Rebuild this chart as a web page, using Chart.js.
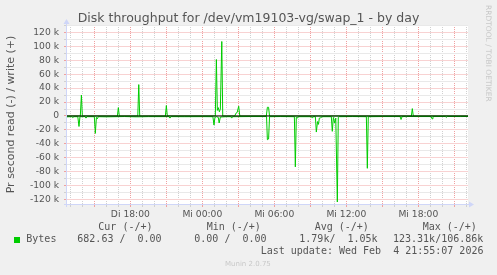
<!DOCTYPE html>
<html>
<head>
<meta charset="utf-8">
<script src="https://cdn.jsdelivr.net/npm/chart.js@4.4.1/dist/chart.umd.min.js"></script>
<style>
    body { margin: 0; background: #F0F0F0; }
    #wrap { position: relative; width: 497px; height: 275px; overflow: hidden; }
    .txt { position: absolute; white-space: pre; color: #555; }
</style>
</head>
<body>
<div id="wrap">
    <canvas id="diskChart" width="497" height="275"></canvas>
</div>
<script>
// Time axis in hours since Tuesday 00:00 (Di 18:00 = 18, Mi 00:00 = 24 ...)
const xLabelHours = [18, 24, 30, 36, 42];
const xLabelTexts = ['Di 18:00', 'Mi 00:00', 'Mi 06:00', 'Mi 12:00', 'Mi 18:00'];

// write (+) samples, bytes per second
const writeHours = [12.72, 13.83, 13.92, 14.0, 16.92, 17.0, 17.08, 18.62, 18.7, 18.78, 20.92, 21.0, 21.08,
    25.08, 25.17, 25.25, 25.33, 25.42, 25.5, 25.62, 25.7, 26.7, 26.8, 26.9, 27.03, 27.12,
    29.33, 29.42, 29.52, 29.6, 41.42, 41.5, 41.58, 46.14];
const writeBytes = [0, 0, 30000, 0, 0, 12000, 0, 0, 45000, 0, 0, 15000, 0,
    0, 81000, 8000, 12000, 6000, 10000, 106860, 0, 0, 4000, 5000, 14000, 0,
    0, 12500, 12500, 0, 0, 10600, 0, 0];

// read (-) samples, bytes per second (drawn below zero)
const readHours = [12.72, 13.1, 13.2, 13.3, 13.62, 13.72, 13.8, 14.22, 14.3, 14.4, 15.0, 15.08, 15.17, 15.25, 15.33,
    16.0, 17.5, 18.5, 19.5, 21.2, 21.3, 21.4, 22.5, 24.0, 24.88, 24.97, 25.05, 25.17, 25.33, 25.4, 25.5,
    26.0, 26.37, 26.45, 26.53, 28.0, 29.35, 29.42, 29.52, 29.6, 30.5, 31.67, 31.75, 31.83, 31.92, 32.0,
    33.08, 33.17, 33.25, 33.42, 33.5, 33.6, 33.68, 33.75, 33.85, 34.0, 34.75, 34.83, 34.92, 35.03, 35.12,
    35.25, 35.33, 35.42, 36.5, 37.67, 37.75, 37.83, 39.0, 40.48, 40.56, 40.64, 40.9, 40.98, 41.06,
    42.0, 43.06, 43.14, 43.22, 44.25, 44.33, 44.41, 45.5, 46.14];
const readBytes = [1200, 1000, 2200, 1000, 1000, 15000, 1000, 900, 3000, 1000, 1000, 25000, 2000, 4000, 1000,
    1200, 800, 1200, 900, 900, 3000, 900, 1000, 900, 1000, 13000, 2000, 1000, 2000, 10000, 1500,
    1000, 1000, 3000, 1000, 800, 800, 34000, 33000, 1000, 800, 1000, 73000, 2000, 3000, 1000,
    1000, 3000, 1000, 1000, 23000, 8000, 12000, 3000, 2500, 1000, 1000, 22000, 2000, 10000, 3000,
    123310, 2000, 1000, 800, 1000, 75000, 1000, 800, 800, 5000, 1000, 700, 1500, 700,
    800, 800, 4000, 800, 700, 2000, 700, 800, 682.63];

// y grid every 10 k, labelled every 20 k
const yGridValues = [-120000, -110000, -100000, -90000, -80000, -70000, -60000, -50000, -40000, -30000,
    -20000, -10000, 0, 10000, 20000, 30000, 40000, 50000, 60000, 70000, 80000, 90000, 100000, 110000,
    120000, 130000];

// legend table
const legendHeads = ['Cur (-/+)', 'Min (-/+)', 'Avg (-/+)', 'Max (-/+)'];
const legendValues = ['682.63 /  0.00', '0.00 /  0.00', '1.79k/  1.05k', '123.31k/106.86k'];
const lastUpdate = 'Last update: Wed Feb  4 21:55:07 2026';

const GREEN = '#00CC00';
const AXIS = '#CFD6F8';
const MAJOR = '#F0A0A0';
const MINOR = '#D0D0D0';

document.addEventListener('DOMContentLoaded', () => {
    generateChart();
    addLegend();
});

function generateChart() {
    const ctx = document.getElementById('diskChart').getContext('2d');

    // white canvas behind the grid
    const plotBackground = {
        id: 'plotBackground',
        beforeDraw(chart) {
            const a = chart.chartArea;
            chart.ctx.save();
            chart.ctx.fillStyle = '#FFFFFF';
            chart.ctx.fillRect(a.left, a.top, a.right - a.left, a.bottom - a.top);
            chart.ctx.restore();
        }
    };

    // munin style axis lines with arrow heads
    const axisArrows = {
        id: 'axisArrows',
        afterDraw(chart) {
            const a = chart.chartArea;
            const c = chart.ctx;
            c.save();
            c.strokeStyle = AXIS;
            c.fillStyle = AXIS;
            c.lineWidth = 1;
            c.beginPath();
            c.moveTo(a.left - 0.5, a.bottom + 3);
            c.lineTo(a.left - 0.5, a.top - 3);
            c.moveTo(a.left - 3, a.bottom + 0.5);
            c.lineTo(a.right + 2, a.bottom + 0.5);
            c.stroke();
            c.beginPath();
            c.moveTo(a.left - 0.5, a.top - 6);
            c.lineTo(a.left - 3.5, a.top - 1);
            c.lineTo(a.left + 2.5, a.top - 1);
            c.fill();
            c.beginPath();
            c.moveTo(a.right + 6, a.bottom + 0.5);
            c.lineTo(a.right + 1, a.bottom - 2.5);
            c.lineTo(a.right + 1, a.bottom + 3.5);
            c.fill();
            c.restore();
        }
    };

    new Chart(ctx, {
        type: 'line',
        data: {
            datasets: [{
                // zero rule
                data: [{ x: 12.72, y: 0 }, { x: 46.14, y: 0 }],
                borderColor: '#000000',
                borderWidth: 1,
                pointRadius: 0
            }, {
                label: 'Bytes write',
                data: writeHours.map((h, i) => ({ x: h, y: writeBytes[i] })),
                borderColor: GREEN,
                borderWidth: 1,
                pointRadius: 0,
                tension: 0
            }, {
                label: 'Bytes read',
                data: readHours.map((h, i) => ({ x: h, y: -readBytes[i] })),
                borderColor: GREEN,
                borderWidth: 1,
                pointRadius: 0,
                tension: 0
            }]
        },
        options: {
            responsive: false,
            animation: false,
            layout: { padding: 0 },
            plugins: {
                legend: { display: false },
                tooltip: { enabled: false },
                title: {
                    display: true,
                    text: 'Disk throughput for /dev/vm19103-vg/swap_1 - by day',
                    color: '#555',
                    font: { family: 'DejaVu Sans', size: 12.5, weight: 'normal', lineHeight: 1 },
                    padding: { top: 12, bottom: 0.5 }
                }
            },
            scales: {
                x: {
                    type: 'linear',
                    min: 12.72,
                    max: 46.14,
                    afterFit: s => { s.height = 71; },
                    afterBuildTicks: s => {
                        const t = [];
                        for (let h = 13; h <= 46; h++) t.push({ value: h });
                        s.ticks = t;
                    },
                    grid: {
                        color: c => c.tick && c.tick.value % 3 === 0 ? MAJOR : MINOR,
                        tickColor: c => c.tick && c.tick.value % 3 === 0 ? MAJOR : MINOR,
                        tickLength: 3,
                        lineWidth: 1
                    },
                    border: { display: false, dash: [1, 1] },
                    ticks: {
                        autoSkip: false,
                        maxTicksLimit: 100,
                        maxRotation: 0,
                        padding: 2,
                        color: '#555',
                        font: { family: 'DejaVu Sans', size: 9.2 },
                        callback: v => {
                            const i = xLabelHours.indexOf(v);
                            return i >= 0 ? xLabelTexts[i] : '';
                        }
                    }
                },
                y: {
                    type: 'linear',
                    min: -126200,
                    max: 130500,
                    afterFit: s => { s.width = 67; },
                    afterBuildTicks: s => {
                        s.ticks = yGridValues.map(v => ({ value: v }));
                    },
                    grid: {
                        // dotted look: light solid lines
                        color: c => c.tick && c.tick.value % 20000 === 0 ? '#F8D2D2' : '#E9E9E9',
                        tickColor: c => c.tick && c.tick.value % 20000 === 0 ? MAJOR : MINOR,
                        tickLength: 3,
                        lineWidth: 1
                    },
                    border: { display: false },
                    title: {
                        display: true,
                        text: 'Pr second read (-) / write (+)',
                        color: '#555',
                        font: { family: 'DejaVu Sans', size: 11, lineHeight: 1.2 },
                        padding: { top: 4.5, bottom: 0 }
                    },
                    ticks: {
                        autoSkip: false,
                        maxTicksLimit: 100,
                        padding: 5,
                        color: '#555',
                        font: { family: 'DejaVu Sans', size: 9.2 },
                        callback: v => {
                            if (v % 20000 !== 0) return '';
                            return v === 0 ? '0' : (v / 1000) + ' k';
                        }
                    }
                },
                // empty right margin, keeps the title centred on the whole image
                margin: {
                    type: 'linear',
                    position: 'right',
                    afterFit: s => { s.width = 29; },
                    grid: { display: false },
                    border: { display: false },
                    ticks: { display: false }
                }
            }
        },
        plugins: [plotBackground, axisArrows]
    });
}

// text below the graph, placed by baseline
function addText(text, x, baseline, size, family, color) {
    const d = document.createElement('div');
    d.className = 'txt';
    d.textContent = text;
    d.style.left = x + 'px';
    d.style.top = (baseline - 0.846 * size) + 'px';
    d.style.fontSize = size + 'px';
    d.style.lineHeight = size + 'px';
    d.style.fontFamily = family;
    if (color) d.style.color = color;
    document.getElementById('wrap').appendChild(d);
    return d;
}

function addLegend() {
    const mono = "'DejaVu Sans Mono', monospace";
    const headX = [98.3, 206.7, 314.7, 422.7];
    const valX = [77.3, 194.3, 299.3, 393];
    legendHeads.forEach((t, i) => addText(t, headX[i], 230.7, 10, mono));
    addText('Bytes', 26.3, 242.7, 10, mono);
    legendValues.forEach((t, i) => addText(t, valX[i], 242.7, 10, mono));
    addText(lastUpdate, 260.7, 254, 10, mono);

    const sq = document.createElement('div');
    sq.style.cssText = 'position:absolute;left:14px;top:237px;width:6px;height:6px;background:' + GREEN;
    document.getElementById('wrap').appendChild(sq);

    const m = addText('Munin 2.0.75', 0, 267, 7, "'DejaVu Sans'", '#C8C8C8');
    m.style.left = (248 - m.offsetWidth / 2) + 'px';

    const r = addText('RRDTOOL / TOBI OETIKER', 0, 0, 7.5, "'DejaVu Sans'", '#C8C8C8');
    r.style.transformOrigin = 'left top';
    r.style.transform = 'rotate(90deg)';
    r.style.left = '492px';
    r.style.top = '5px';
}
</script>
</body>
</html>
